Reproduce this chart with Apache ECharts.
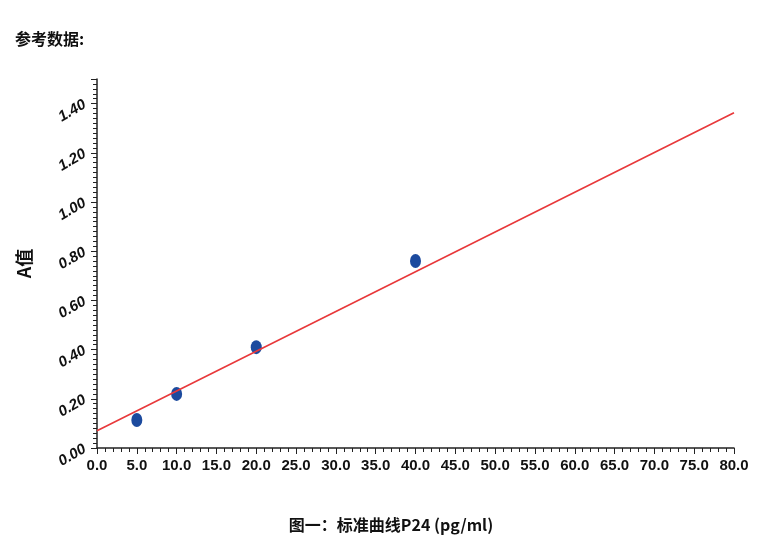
<!DOCTYPE html><html><head><meta charset="utf-8"><script src="https://cdn.jsdelivr.net/npm/echarts@6/dist/echarts.min.js"></script>
<style>body{margin:0}#c{width:782px;height:547px}</style></head><body><div id="c"></div><script>
const concentrations=[5,10,20,40];
const absorbances=[0.114,0.22,0.41,0.76];
const fitX=[0,80];
const fitY=[0.07,1.363];
const chart=echarts.init(document.getElementById('c'));
const lab={color:'#111',fontWeight:'bold',fontFamily:'Liberation Sans',fontSize:14};
chart.setOption({
animation:false,
title:[{text:'参考数据:',left:10,top:26,textStyle:{fontSize:16,fontWeight:'bold',color:'#111',fontFamily:'Noto Sans CJK SC'}},
{text:'图一：标准曲线P24 (pg/ml)',left:'center',top:512,textStyle:{fontSize:16,fontWeight:'bold',color:'#111',fontFamily:'Noto Sans CJK SC'}}],
grid:{left:97,right:48,top:79,bottom:99},
xAxis:{type:'value',min:0,max:80,interval:5,axisLine:{lineStyle:{color:'#222',width:1.5}},axisTick:{length:6,lineStyle:{color:'#222'}},minorTick:{show:true,splitNumber:5,length:4,lineStyle:{color:'#222'}},splitLine:{show:false},axisLabel:Object.assign({},lab,{formatter:v=>v.toFixed(1),margin:10,fontSize:15})},
yAxis:{type:'value',min:0,max:1.5,interval:0.2,name:'A值',nameLocation:'middle',nameGap:64,nameRotate:90,nameTextStyle:{fontSize:18,fontWeight:'bold',color:'#111',fontFamily:'Noto Sans CJK SC'},axisLine:{lineStyle:{color:'#222',width:1.5}},axisTick:{length:6,lineStyle:{color:'#222'}},minorTick:{show:true,splitNumber:10,length:4,lineStyle:{color:'#222'}},splitLine:{show:false},axisLabel:Object.assign({},lab,{formatter:v=>v.toFixed(2),rotate:30,margin:12,fontStyle:'italic',fontSize:15,showMaxLabel:false})},
series:[{type:'line',data:fitX.map((x,i)=>[x,fitY[i]]),symbol:'none',lineStyle:{color:'#e8383a',width:1.6}},
{type:'scatter',data:concentrations.map((x,i)=>[x,absorbances[i]]),symbol:'circle',symbolSize:[11,14],itemStyle:{color:'#1c4a9e',opacity:1}}]
});
</script></body></html>
